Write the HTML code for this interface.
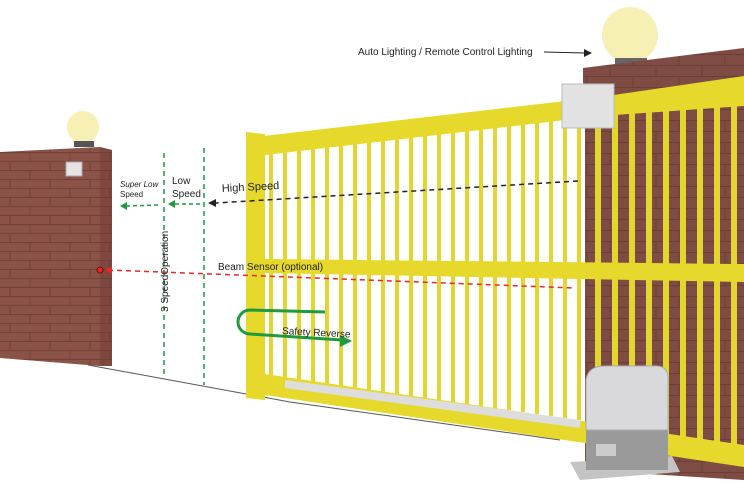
<!DOCTYPE html>
<html><head><meta charset="utf-8"><style>
html,body{margin:0;padding:0;background:#fff;}
svg{display:block;font-family:"Liberation Sans",sans-serif;}
</style></head><body>
<svg width="744" height="500" viewBox="0 0 744 500" xmlns="http://www.w3.org/2000/svg">
<defs>
<pattern id="brick" width="40" height="18" patternUnits="userSpaceOnUse">
<rect width="40" height="18" fill="#8b5248"/>
<path d="M0 17.5H40M0 8.5H40M10 0V9M30 9V18" stroke="#5e3530" stroke-width="1" opacity="0.6"/>
</pattern>
<pattern id="brick2" width="46" height="22" patternUnits="userSpaceOnUse">
<rect width="46" height="22" fill="#7f4c44"/>
<path d="M0 21.5H46M0 10.5H46M12 0V11M35 11V22" stroke="#5a3832" stroke-width="1" opacity="0.6"/>
</pattern>
</defs>
<rect width="744" height="500" fill="#fff"/>
<path d="M88 365 L290 402 L560 440" stroke="#555" stroke-width="1" fill="none"/>
<circle cx="83" cy="127" r="16" fill="#f6f0b4"/>
<rect x="74" y="141" width="20" height="6" fill="#555"/>
<polygon points="0,152 100,147 112,150 112,366 100,366 0,358" fill="url(#brick)"/>
<polygon points="100,147 112,150 112,366 100,366" fill="#6d372f" opacity="0.4"/>
<rect x="66" y="162" width="16" height="14" fill="#e4e4e4" stroke="#aaa"/>
<circle cx="630" cy="35" r="28" fill="#f6f0b4"/>
<rect x="615" y="58" width="32" height="8" fill="#666"/>
<polygon points="583,68 744,48 744,100 583,92" fill="url(#brick2)"/>
<polygon points="585,95 744,85 744,480 585,470" fill="url(#brick2)"/>
<g fill="#e3d630">
<rect x="269" y="150" width="4" height="230"/><rect x="283" y="148" width="4" height="234"/><rect x="297" y="146" width="4" height="238"/><rect x="311" y="144" width="4" height="242"/><rect x="325" y="142" width="4" height="244"/><rect x="339" y="140" width="4" height="248"/><rect x="353" y="138" width="4" height="252"/><rect x="367" y="136" width="4" height="256"/><rect x="381" y="134" width="4" height="260"/><rect x="395" y="132" width="4" height="264"/><rect x="409" y="130" width="4" height="268"/><rect x="423" y="128" width="4" height="272"/><rect x="437" y="126" width="4" height="276"/><rect x="451" y="124" width="4" height="280"/><rect x="465" y="122" width="4" height="284"/><rect x="479" y="120" width="4" height="288"/><rect x="493" y="118" width="4" height="292"/><rect x="507" y="116" width="4" height="294"/><rect x="521" y="114" width="4" height="298"/><rect x="535" y="112" width="4" height="302"/><rect x="549" y="110" width="4" height="306"/><rect x="563" y="108" width="4" height="310"/><rect x="577" y="106" width="4" height="314"/>
<rect x="595" y="110" width="6" height="320"/><rect x="612" y="108" width="6" height="322"/><rect x="629" y="106" width="6" height="326"/><rect x="646" y="105" width="6" height="330"/><rect x="663" y="104" width="6" height="332"/><rect x="680" y="103" width="6" height="336"/><rect x="697" y="102" width="6" height="338"/><rect x="714" y="101" width="6" height="342"/><rect x="731" y="100" width="6" height="346"/>
</g>
<polygon points="246,138 600,97 744,76 744,106 600,116 265,155 246,157" fill="#e6d92b"/>
<polygon points="265,259 744,264 744,282 265,273" fill="#e6d92b"/>
<polygon points="246,132 265,134 265,400 246,398" fill="#e6d92b"/>
<polygon points="265,374 744,445 744,467 265,395" fill="#e6d92b"/>
<polygon points="285,380 580,420 580,428 285,388" fill="#ddd"/>
<rect x="562" y="84" width="52" height="44" fill="#e2e2e2" stroke="#bbb"/>
<polygon points="570,462 672,456 680,472 580,480" fill="#c4c4c4"/>
<rect x="586" y="420" width="82" height="50" fill="#9a9a9a"/>
<path d="M586 380 Q588 366 605 366 L656 366 Q668 366 668 378 L668 430 L586 430 Z" fill="#d9d9db" stroke="#aaa"/>
<rect x="596" y="444" width="20" height="12" fill="#ccc"/>
<line x1="578" y1="181" x2="216" y2="203" stroke="#222" stroke-width="1.5" stroke-dasharray="5,4"/>
<polygon points="208,203 216,199 216,207" fill="#222"/>
<text x="222" y="192" font-size="11" fill="#222" transform="rotate(-3 222 192)">High Speed</text>
<line x1="164" y1="153" x2="164" y2="378" stroke="#1f9a3c" stroke-width="1.5" stroke-dasharray="5,4"/>
<line x1="204" y1="148" x2="204" y2="385" stroke="#1f9a3c" stroke-width="1.5" stroke-dasharray="5,4"/>
<line x1="200" y1="204" x2="175" y2="204" stroke="#1f9a3c" stroke-width="1.5" stroke-dasharray="4,3"/>
<polygon points="168,204 175,200 175,208" fill="#1f9a3c"/>
<line x1="158" y1="205" x2="127" y2="206" stroke="#1f9a3c" stroke-width="1.5" stroke-dasharray="4,3"/>
<polygon points="120,206 127,202 127,210" fill="#1f9a3c"/>
<text x="172" y="184" font-size="10" fill="#222">Low</text>
<text x="172" y="197" font-size="10" fill="#222">Speed</text>
<text x="120" y="187" font-size="8" fill="#222" font-style="italic">Super Low</text>
<text x="120" y="197" font-size="8" fill="#222">Speed</text>
<text transform="translate(168 312) rotate(-90)" font-size="10" fill="#222">3 SpeedOperation</text>
<line x1="108" y1="270" x2="574" y2="288" stroke="#e8262a" stroke-width="1.5" stroke-dasharray="5,4"/>
<polygon points="105,270 112,266 112,274" fill="#e8262a"/>
<circle cx="100" cy="270" r="3" fill="#e8262a" stroke="#600" stroke-width="0.8"/>
<text x="218" y="270" font-size="10" fill="#222">Beam Sensor (optional)</text>
<path d="M325 312 L250 310 A12 12 0 0 0 250 334 L342 340" stroke="#1f9a3c" stroke-width="3" fill="none"/>
<polygon points="352,341 340,335 340,347" fill="#1f9a3c"/>
<text x="282" y="334" font-size="10" fill="#222" transform="rotate(3 282 334)">Safety Reverse</text>
<text x="358" y="55" font-size="10" fill="#222">Auto Lighting / Remote Control Lighting</text>
<line x1="544" y1="52" x2="585" y2="53" stroke="#222" stroke-width="1"/>
<polygon points="592,53 584,49 584,57" fill="#222"/>
</svg>
</body></html>
